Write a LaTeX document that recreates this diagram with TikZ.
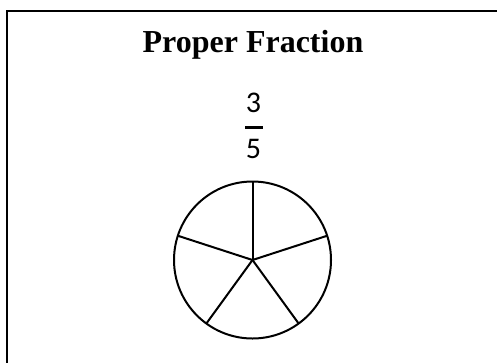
\documentclass[tikz,border=0pt]{standalone}
\usepackage{fontspec}
\setmainfont{Liberation Serif}
\newfontfamily\digitfont{Carlito}
\begin{document}
\begin{tikzpicture}[x=1pt,y=-1pt,
  frame/.style={line width=2pt,line cap=rect},
  piece/.style={line width=2pt},
  title/.style={anchor=base,inner sep=0pt,font=\fontsize{32}{38}\selectfont\bfseries},
  digit/.style={anchor=base,inner sep=0pt,font=\digitfont\fontsize{30}{36}\selectfont}]
\useasboundingbox (0,0) rectangle (497,362);
\draw[frame] (7,380) -- (7,11) -- (510,11);
\node[title] (t) at (253,52) {Proper Fraction};
\node[digit] (num) at (253.5,112) {3};
\draw[line width=3pt] (245,127) -- (263,127);
\node[digit] (den) at (253.5,158) {5};
\coordinate (c) at (252.5,260);
\draw[piece] (c) circle[radius=78.5];
\foreach \a in {90,18,-54,-126,162}
  \draw[piece] (c) -- ++({78.5*cos(\a)},{-78.5*sin(\a)});
\end{tikzpicture}
\end{document}
